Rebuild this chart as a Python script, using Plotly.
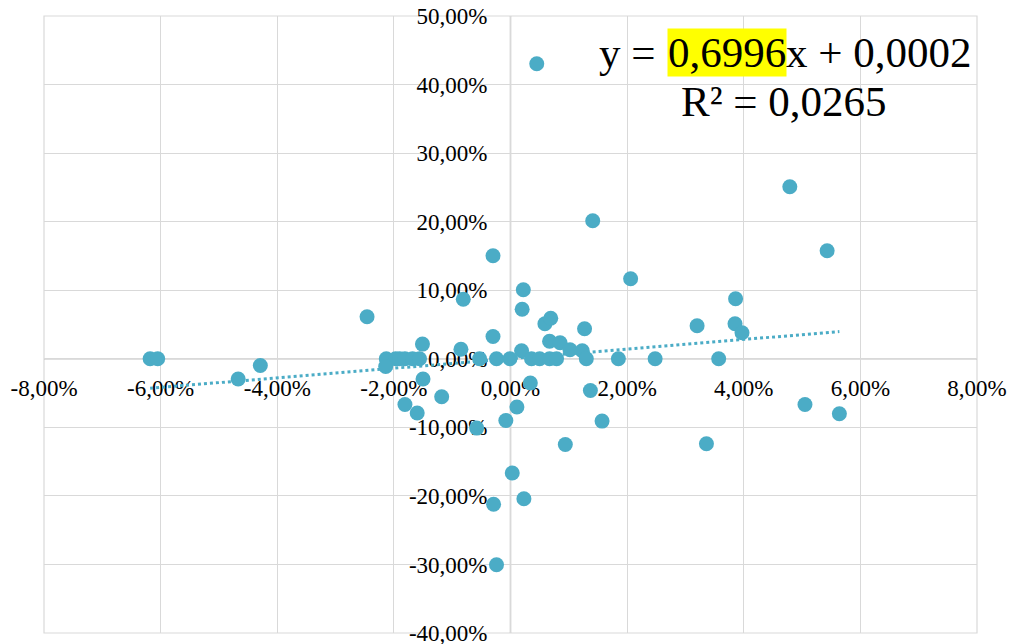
import plotly.graph_objects as go

# Data (values in percent)
x_vals = [0.45, 4.79, 1.41, 5.43, -0.30, 2.06, 0.22, -0.81, 3.86, 0.20,
          -2.46, 0.59, 0.69, 1.27, 3.20, 3.85, 3.97, -0.30, -1.51, -0.85,
          0.67, 0.85, 0.19, 1.02, 1.23,
          -6.18, -6.05, -2.13, -1.97, -1.90, -1.81, -1.68, -1.56, -0.53, -0.24,
          -0.01, 0.36, 0.50, 0.67, 0.79, 1.30, 1.85, 2.48, 3.57, -2.14,
          -4.29, -4.67, -1.50, 0.34, 1.37, -1.18, -1.81, -1.60, 0.11, -0.08,
          -0.58, 1.57, 0.94, 3.36, 5.05, 5.64, 0.03, 0.23, -0.29, -0.24]
y_vals = [43.03, 25.09, 20.13, 15.75, 15.02, 11.67, 10.06, 8.68, 8.75, 7.22,
          6.13, 5.10, 5.91, 4.38, 4.81, 5.10, 3.79, 3.25, 2.14, 1.39,
          2.55, 2.33, 1.17, 1.31, 1.17,
          0.0, 0.0, 0.0, 0.0, 0.0, 0.0, 0.0, 0.0, 0.0, 0.0,
          0.0, 0.0, 0.0, 0.0, 0.0, 0.0, 0.0, 0.0, 0.0, -1.12,
          -0.98, -2.96, -2.96, -3.54, -4.62, -5.54, -6.67, -7.92, -7.04, -9.00,
          -10.11, -9.09, -12.50, -12.40, -6.67, -8.02, -16.67, -20.42, -21.22, -30.05]

slope = 0.6996
intercept = 0.0002  # as fraction
eq_left = "y = "
eq_coef = "0,6996"
eq_right = "x + 0,0002"
r2_text = "R² = 0,0265"

x_ticks = [-8, -6, -4, -2, 0, 2, 4, 6, 8]
x_ticktext = ["-8,00%", "-6,00%", "-4,00%", "-2,00%", "0,00%", "2,00%", "4,00%", "6,00%", "8,00%"]
y_ticks = [-40, -30, -20, -10, 0, 10, 20, 30, 40, 50]
y_ticktext = ["-40,00%", "-30,00%", "-20,00%", "-10,00%", "0,00%", "10,00%", "20,00%", "30,00%", "40,00%", "50,00%"]

color = "#4bacc6"
font_family = "Liberation Serif"

x_min, x_max = min(x_vals), max(x_vals)
trend_x = [x_min, x_max]
trend_y = [slope * v + intercept * 100 for v in trend_x]

fig = go.Figure()
fig.add_trace(go.Scatter(x=trend_x, y=trend_y, mode="lines",
                         line=dict(color=color, width=3, dash="dot"),
                         showlegend=False, hoverinfo="skip"))
fig.add_trace(go.Scatter(x=x_vals, y=y_vals, mode="markers",
                         marker=dict(color=color, size=15),
                         showlegend=False))

W, H = 1010, 644
L, R, T, B = 44, 33, 16, 11
pw, ph = W - L - R, H - T - B

fig.update_layout(
    width=W, height=H,
    margin=dict(l=L, r=R, t=T, b=B, pad=0),
    paper_bgcolor="white", plot_bgcolor="white",
    font=dict(family=font_family, size=23, color="black"),
    xaxis=dict(range=[-8, 8], tickvals=x_ticks, ticktext=x_ticktext,
               showgrid=True, gridcolor="#d9d9d9", gridwidth=1.2,
               zeroline=False, showline=False, ticks="",
               anchor="free", position=0.444, automargin=False,
               ticklabelstandoff=13, layer="below traces",
               ticklabeloverflow="allow", fixedrange=True),
    yaxis=dict(range=[-40, 50], tickvals=y_ticks, ticktext=y_ticktext,
               showgrid=True, gridcolor="#d9d9d9", gridwidth=1.2,
               zeroline=False, showline=False, ticks="",
               anchor="free", position=0.5, automargin=False,
               ticklabelstandoff=23, layer="below traces",
               ticklabeloverflow="allow", fixedrange=True),
    shapes=[
        dict(type="line", xref="x", yref="y", x0=-8, x1=8, y0=0, y1=0,
             line=dict(color="#bfbfbf", width=1.5), layer="below"),
        dict(type="line", xref="x", yref="y", x0=0, x1=0, y0=-40, y1=50,
             line=dict(color="#bfbfbf", width=1.5), layer="below"),
        dict(type="rect", xref="paper", yref="paper", x0=0, x1=1, y0=0, y1=1,
             line=dict(color="#d9d9d9", width=1.2), layer="below"),
    ],
)

def px_x(p):
    return (p - L) / pw

def px_y(p):
    return (H - B - p) / ph

eq_y = px_y(52)
split1 = px_x(666.5)
split2 = px_x(785)
fsize = 43
fig.add_annotation(x=split1, y=eq_y, xref="paper", yref="paper", text=eq_left,
                   showarrow=False, xanchor="right", yanchor="middle",
                   font=dict(size=fsize, family=font_family), borderpad=0)
fig.add_annotation(x=split1, y=eq_y, xref="paper", yref="paper", text=eq_coef,
                   showarrow=False, xanchor="left", yanchor="middle",
                   bgcolor="#ffff00",
                   font=dict(size=fsize, family=font_family), borderpad=0)
fig.add_annotation(x=split2, y=eq_y, xref="paper", yref="paper", text=eq_right,
                   showarrow=False, xanchor="left", yanchor="middle",
                   font=dict(size=fsize, family=font_family), borderpad=0)
fig.add_annotation(x=px_x(783.5), y=px_y(101), xref="paper", yref="paper", text=r2_text,
                   showarrow=False, xanchor="center", yanchor="middle",
                   font=dict(size=fsize, family=font_family), borderpad=0)

fig.write_html("out.html", config={"displayModeBar": False},
               post_script="document.body.style.margin='0';document.body.style.overflow='hidden';")
